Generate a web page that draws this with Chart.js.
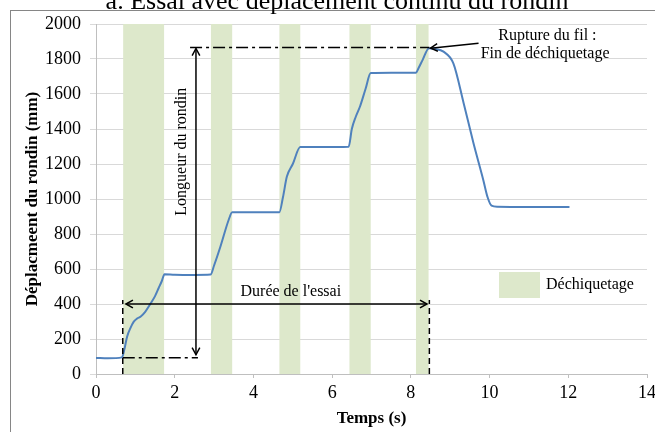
<!DOCTYPE html>
<html>
<head>
<meta charset="utf-8">
<script src="https://cdn.jsdelivr.net/npm/chart.js@4/dist/chart.umd.min.js"></script>
<style>
  html, body { margin: 0; padding: 0; background: #fff; }
  #wrap { width: 655px; height: 432px; }
</style>
</head>
<body>
<div id="wrap"><canvas id="essaiChart" width="655" height="432"></canvas></div>
<script>
// ---------------- DATA ----------------

const timeValues = [0, 0.3, 0.66, 0.72, 0.79, 0.88, 0.96, 1.05, 1.13, 1.25, 1.38, 1.5, 1.59, 1.67, 1.74,
    2.0, 2.5, 2.91, 3.0, 3.16, 3.37, 3.46, 4.0, 4.66, 4.75, 4.85, 5.0, 5.19, 5.7, 6.42,
    6.5, 6.6, 6.71, 6.85, 6.98, 7.5, 8.13, 8.2, 8.3, 8.46, 8.6, 8.83, 9.08, 9.34, 9.59,
    9.84, 9.95, 10.05, 10.2, 11.0, 12.03];
const displacementValues = [92, 90, 95, 140, 213, 265, 299, 318, 327, 355, 400, 445, 490, 530, 570,
    567, 566, 568, 620, 727, 880, 924, 925, 925, 1010, 1128, 1200, 1297, 1297, 1299,
    1400, 1470, 1530, 1630, 1720, 1722, 1722, 1750, 1795, 1862, 1858, 1842, 1775, 1549, 1320,
    1109, 1010, 962, 956, 955, 955];

// shredding periods (s)
const shredStart = [0.69, 2.92, 4.66, 6.44, 8.13];
const shredEnd = [1.73, 3.46, 5.19, 6.98, 8.45];

const xTicks = [0, 2, 4, 6, 8, 10, 12, 14];
const yTicks = [0, 200, 400, 600, 800, 1000, 1200, 1400, 1600, 1800, 2000];

// annotation values
const testStart = 0.68;
const testEnd = 8.47;
const startLevel = 93;
const breakLevel = 1866;
const lengthArrowTime = 2.54;
const durationLevel = 400;
const dashedTop = 423;

const titleText = "a. Essai avec déplacement continu du rondin";
const serif = "'Liberation Serif', 'Times New Roman', serif";

const points = timeValues.map((t, i) => ({ x: t, y: displacementValues[i] }));

// ---------------- HELPERS ----------------

function line(ctx, x1, y1, x2, y2) {
    ctx.beginPath();
    ctx.moveTo(x1, y1);
    ctx.lineTo(x2, y2);
    ctx.stroke();
}

function arrowHead(ctx, fromX, fromY, tipX, tipY) {
    const a = Math.atan2(tipY - fromY, tipX - fromX);
    const len = 8;
    ctx.beginPath();
    ctx.moveTo(tipX - len * Math.cos(a - 0.5), tipY - len * Math.sin(a - 0.5));
    ctx.lineTo(tipX, tipY);
    ctx.lineTo(tipX - len * Math.cos(a + 0.5), tipY - len * Math.sin(a + 0.5));
    ctx.stroke();
}

// ---------------- PLUGINS ----------------

const backgroundPlugin = {
    id: "bands",
    beforeDatasetsDraw(chart) {
        const { ctx, chartArea, scales } = chart;
        ctx.save();
        ctx.fillStyle = "#dde8cb";
        shredStart.forEach((s, i) => {
            const x1 = scales.x.getPixelForValue(s);
            const x2 = scales.x.getPixelForValue(shredEnd[i]);
            ctx.fillRect(x1, chartArea.top, x2 - x1, chartArea.bottom - chartArea.top);
        });
        ctx.restore();
    },
    beforeDraw(chart) {
        const ctx = chart.ctx;
        ctx.save();
        ctx.fillStyle = "#fff";
        ctx.fillRect(0, 0, chart.width, chart.height);
        ctx.strokeStyle = "#868686";
        ctx.lineWidth = 1;
        ctx.strokeRect(10.5, 10.5, 1000, 1000);
        ctx.fillStyle = "#000";
        ctx.font = "26px " + serif;
        ctx.textAlign = "center";
        ctx.textBaseline = "alphabetic";
        ctx.fillText(titleText, 337, 9);
        ctx.restore();
    }
};

const annotationPlugin = {
    id: "annotations",
    afterDatasetsDraw(chart) {
        const { ctx, scales } = chart;
        const px = v => scales.x.getPixelForValue(v);
        const py = v => scales.y.getPixelForValue(v);

        ctx.save();
        ctx.strokeStyle = "#000";
        ctx.lineWidth = 1.5;

        // dash-dot reference levels
        ctx.setLineDash([12, 4, 3, 4]);
        line(ctx, px(lengthArrowTime - 0.15), py(breakLevel), px(testEnd), py(breakLevel));
        line(ctx, px(testStart), py(startLevel), px(lengthArrowTime + 0.05), py(startLevel));

        // dashed verticals for test duration
        ctx.setLineDash([6, 4]);
        line(ctx, px(testStart), py(0), px(testStart), py(dashedTop));
        line(ctx, px(testEnd), py(0), px(testEnd), py(dashedTop));
        ctx.setLineDash([]);

        // log length arrow
        const ax = px(lengthArrowTime);
        line(ctx, ax, py(110), ax, py(1860));
        arrowHead(ctx, ax, py(1000), ax, py(1860));
        arrowHead(ctx, ax, py(1000), ax, py(110));

        // test duration arrow
        const dy = py(durationLevel);
        line(ctx, px(testStart + 0.08), dy, px(testEnd - 0.06), dy);
        arrowHead(ctx, px(4), dy, px(testStart + 0.08), dy);
        arrowHead(ctx, px(4), dy, px(testEnd - 0.06), dy);

        // wire break arrow
        line(ctx, px(9.72), py(1890), px(8.5), py(1862));
        arrowHead(ctx, px(9.72), py(1890), px(8.5), py(1862));

        // texts
        ctx.fillStyle = "#000";
        ctx.font = "16px " + serif;
        ctx.textAlign = "center";
        ctx.textBaseline = "middle";
        ctx.fillText("Durée de l'essai", px(4.95), py(470));
        ctx.fillText("Rupture du fil :", px(11.47), py(1935));
        ctx.fillText("Fin de déchiquetage", px(11.41), py(1832));

        ctx.save();
        ctx.translate(px(2.19), py(1270));
        ctx.rotate(-Math.PI / 2);
        ctx.fillText("Longueur du rondin", 0, 0);
        ctx.restore();

        // legend
        ctx.fillStyle = "#dde8cb";
        ctx.fillRect(499, 272, 41, 26);
        ctx.fillStyle = "#000";
        ctx.textAlign = "left";
        ctx.fillText("Déchiquetage", 546, 285);

        ctx.restore();
    }
};

// ---------------- LINE CHART ----------------

const canvas = document.getElementById("essaiChart");

new Chart(canvas, {
    type: "line",
    data: {
        datasets: [{
            label: "Déplacement",
            data: points,
            borderColor: "#4f81bd",
            borderWidth: 2,
            pointRadius: 0,
            cubicInterpolationMode: "monotone",
            fill: false
        }]
    },
    options: {
        responsive: false,
        animation: false,
        layout: {
            padding: { left: 0, top: 24, right: 8, bottom: 0 }
        },
        plugins: {
            legend: { display: false },
            tooltip: { enabled: false }
        },
        scales: {
            x: {
                type: "linear",
                min: 0,
                max: 14,
                afterBuildTicks: scale => { scale.ticks = xTicks.map(v => ({ value: v })); },
                afterFit: scale => {
                    scale.height = 58;
                    scale.paddingLeft = 0;
                    scale.paddingRight = 0;
                },
                grid: {
                    drawOnChartArea: false,
                    tickLength: 4,
                    color: "#bfbfbf"
                },
                border: { color: "#bfbfbf" },
                ticks: {
                    color: "#000",
                    padding: 4,
                    maxRotation: 0,
                    callback: v => String(v),
                    font: { family: serif, size: 18 }
                },
                title: {
                    display: true,
                    text: "Temps (s)",
                    color: "#000",
                    padding: { top: 0, bottom: 3 },
                    font: { family: serif, size: 17, weight: "bold" }
                }
            },
            y: {
                min: 0,
                max: 2000,
                afterBuildTicks: scale => { scale.ticks = yTicks.map(v => ({ value: v })); },
                afterFit: scale => {
                    scale.width = 96;
                    scale.paddingTop = 0;
                    scale.paddingBottom = 0;
                },
                grid: {
                    color: "#d9d9d9",
                    tickLength: 6
                },
                border: { color: "#bfbfbf" },
                ticks: {
                    color: "#000",
                    padding: 9,
                    callback: v => String(v),
                    font: { family: serif, size: 18 }
                },
                title: {
                    display: true,
                    text: "Déplacmeent du rondin (mm)",
                    color: "#000",
                    padding: { top: 22, bottom: 0 },
                    font: { family: serif, size: 17, weight: "bold" }
                }
            }
        }
    },
    plugins: [backgroundPlugin, annotationPlugin]
});
</script>
</body>
</html>
